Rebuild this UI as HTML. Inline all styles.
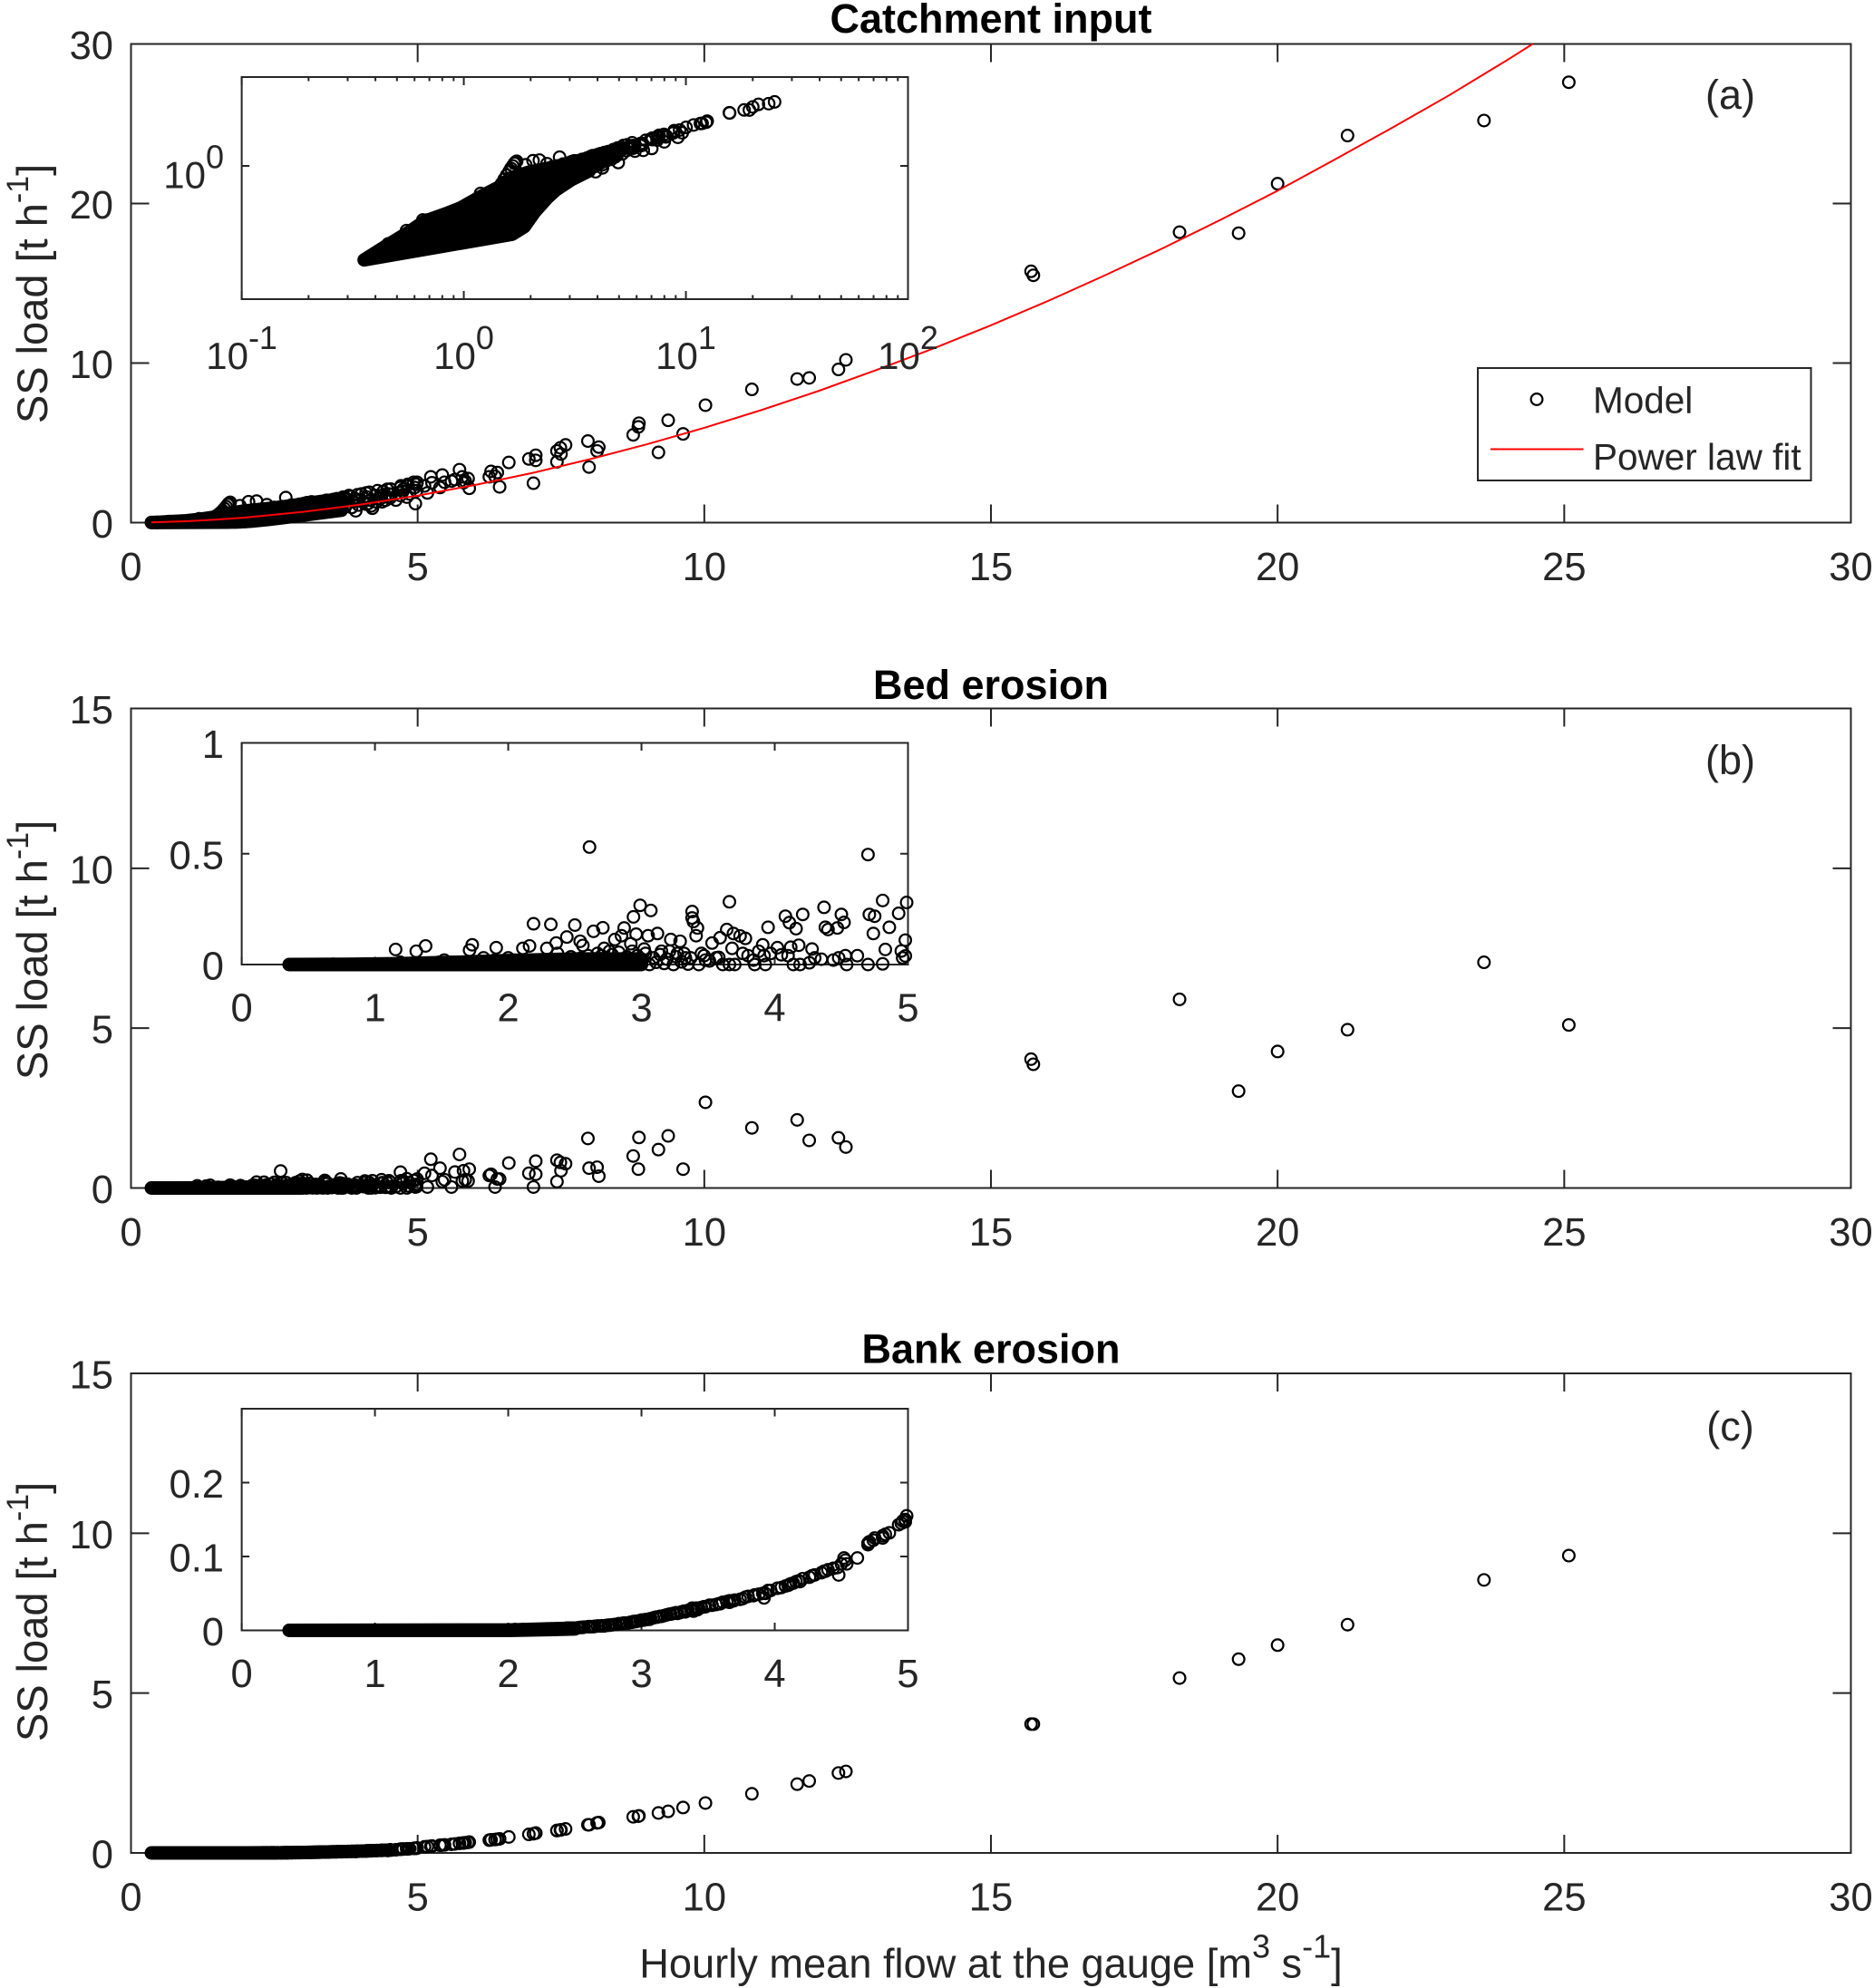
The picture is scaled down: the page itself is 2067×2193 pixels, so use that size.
<!DOCTYPE html>
<html lang="en">
<head>
<meta charset="utf-8">
<title>SS load versus hourly mean flow</title>
<style>
html,body{margin:0;padding:0;background:#fff}
svg{display:block}
text{font-family:"Liberation Sans",Arial,sans-serif;fill:#262626}
</style>
</head>
<body>
<svg id="chart" xmlns="http://www.w3.org/2000/svg" width="2067" height="2193" viewBox="0 0 2067 2193">
<rect x="0" y="0" width="2067" height="2193" fill="#fff"/>
<g id="panel-a"></g>
<g id="panel-b"></g>
<g id="panel-c"></g>

<text x="1093" y="36" text-anchor="middle" font-size="45" font-weight="bold" style="fill:#000">Catchment input</text>
<text x="1093" y="771" text-anchor="middle" font-size="45" font-weight="bold" style="fill:#000">Bed erosion</text>
<text x="1093" y="1503.5" text-anchor="middle" font-size="45" font-weight="bold" style="fill:#000">Bank erosion</text>

<text x="1908.5" y="120" text-anchor="middle" font-size="45">(a)</text>
<text x="1908.5" y="854" text-anchor="middle" font-size="45">(b)</text>
<text x="1908.5" y="1589" text-anchor="middle" font-size="45">(c)</text>

<text transform="translate(52,324) rotate(-90)" text-anchor="middle" font-size="47">SS load [t h<tspan font-size="34" dy="-21">-1</tspan><tspan dy="21">]</tspan></text>
<text transform="translate(52,1048) rotate(-90)" text-anchor="middle" font-size="47">SS load [t h<tspan font-size="34" dy="-21">-1</tspan><tspan dy="21">]</tspan></text>
<text transform="translate(52,1778) rotate(-90)" text-anchor="middle" font-size="47">SS load [t h<tspan font-size="34" dy="-21">-1</tspan><tspan dy="21">]</tspan></text>
<text x="1093" y="2181.5" text-anchor="middle" font-size="45.2">Hourly mean flow at the gauge [m<tspan font-size="36" dy="-22">3</tspan><tspan dy="22"> s</tspan><tspan font-size="36" dy="-22">-1</tspan><tspan dy="22">]</tspan></text>

<g id="legend">
<rect x="1630" y="406" width="367.5" height="124" fill="#fff" stroke="#262626" stroke-width="2"/>
<circle cx="1695" cy="440.5" r="6.4" fill="none" stroke="#000" stroke-width="2.2"/>
<text x="1757" y="455.5" font-size="40.5">Model</text>
<line x1="1644" y1="495.5" x2="1746.5" y2="495.5" stroke="#f00" stroke-width="2"/>
<text x="1757" y="518" font-size="40.5">Power law fit</text>
</g>
</svg>

<script>
// Shared model output: one entry per hourly flow value.
const flow = [
0.457,0.552,0.587,0.654,0.687,1.155,1.19,1.31,1.38,1.48,
1.52,1.56,1.6,1.63,1.66,1.69,1.71,1.73,1.815,1.9,
1.91,2,2.05,2.11,2.16,2.19,2.29,2.32,2.36,2.37,
2.44,2.5,2.54,2.56,2.61,2.64,2.7,2.71,2.72,2.76,
2.8,2.85,2.87,2.92,2.94,2.96,2.99,3.02,3.05,3.07,
3.12,3.15,3.22,3.27,3.29,3.33,3.38,3.38,3.39,3.41,
3.42,3.45,3.48,3.51,3.53,3.56,3.58,3.59,3.61,3.64,
3.66,3.66,3.68,3.69,3.7,3.74,3.76,3.78,3.8,3.84,
3.85,3.88,3.91,3.92,3.93,3.95,3.97,4.02,4.05,4.08,
4.1,4.11,4.12,4.14,4.16,4.18,4.19,4.21,4.26,4.28,
4.3,4.35,4.37,4.38,4.4,4.44,4.47,4.48,4.5,4.52,
4.53,4.54,4.62,4.7,4.7,4.71,4.74,4.75,4.81,4.81,
4.83,4.86,4.93,4.95,4.96,4.98,4.98,4.99,5.12,5.17,
5.23,5.25,5.39,5.43,5.47,5.59,5.65,5.73,5.78,5.8,
5.83,5.88,5.9,6.25,6.28,6.35,6.39,6.43,6.59,6.94,
7.02,7.06,7.06,7.43,7.43,7.49,7.5,7.58,7.97,7.99,
8.13,8.16,8.76,8.85,8.86,9.2,9.37,9.63,10.02,10.83,
11.62,11.83,12.34,12.47,15.7,15.74,18.29,19.32,20,21.22,
23.6,25.08,
2.42,2.45,2.47,2.49,2.52,2.55,2.57,2.6,2.62,2.65,
2.67,2.69,2.73,2.75,2.78,2.81,2.83,2.86,2.89,2.91,
2.93,2.95,2.97,3,3.03,3.06,3.09,3.11,3.14,3.17,
3.19,3.21,3.24,3.26,3.3,3.32,3.35,3.37,3.43,3.47
];
const catchLoad = [
0.0176,0.035,0.035,0.0606,0.0606,0.15,0.24,0.2,0.18,0.4,
0.5,0.62,0.75,0.88,1,1.14,1.22,1.27,0.04,1.06,
0.5,0.074,1.31,0.6,0.7,1.35,0.8,0.85,0.6,1.12,
0.9,0.95,0.7,0.75,0.9,1,1.57,0.8,1,0.9,
1.1,0.85,1.05,0.95,1.15,0.7,1.1,1.2,0.9,1.25,
1,1.3,1.05,1.2,0.8,1.3,1.3,0.9,1,1.4,
1.1,0.85,1.3,0.9,1.45,1,1.2,1.5,0.95,1.3,
1.5,1.1,0.9,1.35,1.6,1,1.5,1.2,1.7,1.64,
0.95,1.3,1.5,0.74,1.4,1.75,1.1,1.8,1.3,1.5,
1.86,1.15,1.6,1.2,1.9,1.4,1.05,0.9,1.7,1.3,
2,1.5,1.7,1.3,1.95,1.4,2.09,1.6,1.8,1.55,
2.1,1.75,1.41,2.2,1.7,2.31,1.95,2.1,2.3,1.6,
2.4,1.8,2.53,2.2,1.19,2.4,2,2.53,2.3,1.86,
2.87,2.5,2.2,2.98,2.53,2.6,2.7,3.32,2.87,2.5,
2.6,2.76,2.15,2.87,3.21,2.9,3.14,2.24,3.77,3.99,
2.47,4.22,3.9,3.81,4.49,4.69,4.3,4.87,5.11,3.48,
4.49,4.73,5.5,6,6.23,4.4,6.41,5.56,7.36,8.35,
9,9.07,9.6,10.2,15.75,15.5,18.2,18.14,21.24,24.26,
25.2,27.6,
0.7,0.5,0.9,0.6,0.8,0.5,0.95,0.65,0.8,0.55,
0.9,0.7,0.6,1,0.75,0.65,0.95,0.7,0.85,1.05,
0.75,0.9,1.05,0.8,0.95,0.85,1.1,0.75,1,0.85,
1.1,0.8,1.15,0.95,1,1.15,0.9,1.2,1,1.25
];
const bedLoad = [
0,0,0,0,0.001,0.068,0.01,0.06,0.084,0.01,
0.02,0.01,0.005,0.01,0.005,0.01,0.065,0.089,0.03,0.02,
0.076,0.03,0.02,0.073,0.084,0.184,0.073,0.181,0.097,0.05,
0.124,0.178,0.105,0.086,0.53,0.15,0.04,0.166,0.073,0.06,
0.113,0.13,0.165,0.094,0.215,0.137,0.267,0.07,0.13,0.244,
0.14,0.06,0.113,0.05,0.105,0.03,0.239,0.21,0.194,0.13,
0.165,0.05,0.02,0.016,0.097,0.03,0.032,0.121,0,0.158,
0.283,0,0.073,0.14,0,0.129,0.05,0.118,0.04,0.02,
0,0.06,0.089,0.04,0,0.168,0.05,0.076,0.044,0.218,
0.04,0.189,0.078,0,0.162,0.087,0,0.226,0.008,0.07,
0.03,0.024,0.258,0.168,0.158,0.02,0.165,0.03,0.226,0.19,
0.04,0,0.04,0.496,0,0.226,0.14,0.218,0.289,0.003,
0.068,0.168,0.231,0.061,0.03,0.11,0.039,0.28,0.46,0.03,
0.9,0.39,0.62,0.2,0.26,0.03,0.5,1.05,0.22,0.54,
0.26,0.22,0.59,0.39,0.43,0.03,0.28,0.28,0.78,0.46,
0.03,0.84,0.43,0.2,0.87,0.8,0.54,0.76,1.55,0.62,
0.65,0.37,1,0.59,1.58,1.2,1.63,0.59,2.68,1.88,
2.13,1.49,1.57,1.28,4.03,3.87,5.9,3.03,4.27,4.95,
7.06,5.1,
0.02,0.004,0.035,0.012,0,0.03,0.01,0.04,0.002,0.025,
0.05,0.008,0.03,0,0.045,0.015,0.055,0.003,0.035,0.01,
0.06,0,0.04,0.02,0.05,0,0.03,0.01,0.045,0.005,
0.025,0.06,0,0.035,0.012,0.05,0.002,0.03,0,0.04
];
const bankLoad = [
0,0,0,0,0,0,0,0,0,0,
0,0,0,0,0,0,0,0,0,0,
0,0.0005,0.001,0.001,0.001,0.001,0.002,0.002,0.002,0.002,
0.003,0.003,0.004,0.004,0.005,0.005,0.006,0.006,0.006,0.007,
0.008,0.009,0.01,0.011,0.012,0.012,0.013,0.014,0.015,0.016,
0.018,0.019,0.022,0.023,0.024,0.025,0.028,0.03,0.026,0.03,
0.028,0.031,0.032,0.034,0.034,0.035,0.036,0.036,0.038,0.039,
0.04,0.038,0.04,0.04,0.041,0.042,0.043,0.045,0.046,0.047,
0.048,0.049,0.05,0.044,0.05,0.054,0.054,0.057,0.058,0.06,
0.061,0.062,0.063,0.064,0.066,0.067,0.066,0.07,0.072,0.074,
0.075,0.078,0.08,0.08,0.082,0.084,0.085,0.075,0.09,0.098,
0.095,0.09,0.098,0.116,0.118,0.12,0.122,0.125,0.125,0.128,
0.13,0.132,0.143,0.145,0.148,0.15,0.147,0.155,0.19,0.2,
0.21,0.215,0.24,0.245,0.25,0.27,0.28,0.3,0.31,0.31,
0.32,0.33,0.34,0.4,0.41,0.42,0.43,0.44,0.5,0.58,
0.6,0.62,0.62,0.7,0.7,0.72,0.72,0.75,0.88,0.88,
0.94,0.95,1.13,1.15,1.16,1.25,1.3,1.42,1.56,1.85,
2.15,2.25,2.5,2.55,4.03,4.03,5.47,6.06,6.5,7.14,
8.54,9.3,
0.0025,0.003,0.003,0.003,0.0035,0.004,0.0045,0.005,0.005,0.0055,
0.006,0.006,0.0065,0.007,0.0075,0.008,0.009,0.0095,0.01,0.0105,
0.011,0.012,0.0125,0.014,0.0145,0.015,0.017,0.018,0.019,0.02,
0.021,0.022,0.023,0.024,0.025,0.026,0.027,0.028,0.03,0.032
];

// Power law fit.
const fitFlow = [0.356,1,1.5,2,3,4,5,6,7,8,9,10,11,12,13,14,15,16,17,18,19,20,21,22,23,24,24.45];
const fitLoad = [0.0142,0.092,0.19,0.323,0.672,1.13,1.69,2.36,3.11,3.97,4.91,5.94,7.06,8.26,9.56,10.92,12.37,13.9,15.52,17.2,18.97,20.8,22.76,24.75,26.8,28.98,30];

// Overplotted low-flow markers: outline of the solid marker clouds.
const catchCloudUpperFlow = [0.356,0.45,0.561,0.665,0.828,0.97,1.21,1.435,1.626,1.96,2.56,3.45,3.67];
const catchCloudUpperLoad = [0.00766,0.016,0.0314,0.056,0.083,0.1135,0.212,0.329,0.526,0.72,0.94,1.39,1.5];
const catchCloudLowerFlow = [0.356,1.652,1.87,2.09,2.37,2.6,3.04,3.67];
const catchCloudLowerLoad = [0.00766,0.029,0.0429,0.094,0.19,0.29,0.486,0.778];
const bedCloudUpperFlow = [0.356,0.8,1.2,1.6,2,2.5,3];
const bedCloudUpperLoad = [0,0.001,0.004,0.01,0.018,0.025,0.025];
const bedCloudLowerFlow = [0.356,3];
const bedCloudLowerLoad = [0,0];
const bankCloudUpperFlow = [0.356,2,2.3,2.5];
const bankCloudUpperLoad = [0,0.0005,0.002,0.003];
const bankCloudLowerFlow = [0.356,2,2.3,2.5];
const bankCloudLowerLoad = [0,0,0.001,0.002];

// Tick labels.
const mainXTicks = [0,5,10,15,20,25,30];
const mainYTicksA = [0,10,20,30];
const mainYTicksB = [0,5,10,15];
const mainYTicksC = [0,5,10,15];
const insetXTicks = [0,1,2,3,4,5];
const insetYTicksB = [0,0.5,1];
const insetYTicksC = [0,0.1,0.2];
const logXExponents = [-1,0,1,2];
const logYExponents = [0];
const logMinorMultipliers = [2,3,4,5,6,7,8,9];

const NS = 'http://www.w3.org/2000/svg';
const INK = '#262626';

function make(tag, attrs, parent) {
  const node = document.createElementNS(NS, tag);
  for (const key in attrs) node.setAttribute(key, attrs[key]);
  parent.appendChild(node);
  return node;
}
function linearAxis(d0, d1, r0, r1) {
  return function (v) { return r0 + (v - d0) / (d1 - d0) * (r1 - r0); };
}
function logAxis(d0, d1, r0, r1) {
  const a = Math.log10(d0), b = Math.log10(d1);
  return function (v) { return r0 + (Math.log10(v) - a) / (b - a) * (r1 - r0); };
}

function drawBox(parent, box) {
  const rect = make('rect', {x: box.l, y: box.t, width: box.r - box.l, height: box.b - box.t, fill: '#fff', stroke: INK, 'stroke-width': 2}, parent);
  
  
}
function drawXTick(parent, box, px, len) {
  const bottom = make('line', {x1: px, x2: px, y1: box.b, y2: box.b - len, stroke: INK, 'stroke-width': 2}, parent);
  
  
  const top = make('line', {x1: px, x2: px, y1: box.t, y2: box.t + len, stroke: INK, 'stroke-width': 2}, parent);
  
  
}
function drawYTick(parent, box, py, len) {
  const left = make('line', {x1: box.l, x2: box.l + len, y1: py, y2: py, stroke: INK, 'stroke-width': 2}, parent);
  
  
  const right = make('line', {x1: box.r, x2: box.r - len, y1: py, y2: py, stroke: INK, 'stroke-width': 2}, parent);
  
  
}
function drawLabel(parent, px, py, anchor, content, name) {
  const label = make('text', {x: px, y: py, 'text-anchor': anchor, 'font-size': 43.5}, parent);
  
  
  label.textContent = content;
}
function drawPowerLabel(parent, px, py, anchor, exponent, name) {
  const label = make('text', {x: px, y: py, 'text-anchor': anchor, 'font-size': 42}, parent);
  
  
  label.appendChild(document.createTextNode('10'));
  const sup = make('tspan', {'font-size': 36, dy: -22}, label);
  sup.textContent = String(exponent);
}
function drawLinearAxes(parent, box, X, Y, xTicks, yTicks, len, xLabelY, yLabelX) {
  drawBox(parent, box);
  xTicks.forEach(function (t) {
    drawXTick(parent, box, X(t), len);
    drawLabel(parent, X(t), xLabelY, 'middle', String(t), 'x-tick-label');
  });
  yTicks.forEach(function (t) {
    drawYTick(parent, box, Y(t), len);
    drawLabel(parent, yLabelX, Y(t) + 16.5, 'end', String(t), 'y-tick-label');
  });
}
function drawRings(parent, xs, ys, X, Y, xMin, xMax, yMin, yMax, name) {
  const group = make('g', {fill: 'none', stroke: '#000', 'stroke-width': 2.2}, parent);
  
  
  for (let i = 0; i < xs.length; i++) {
    if (xs[i] < xMin || xs[i] > xMax || ys[i] < yMin || ys[i] > yMax) continue;
    const ring = make('circle', {cx: X(xs[i]).toFixed(2), cy: Y(ys[i]).toFixed(2), r: 6.4}, group);
    
    
  }
}
function drawCloud(parent, upX, upY, loX, loY, X, Y, name) {
  let d = '';
  for (let i = 0; i < upX.length; i++) d += (i ? 'L' : 'M') + X(upX[i]).toFixed(2) + ' ' + Y(upY[i]).toFixed(2);
  for (let i = loX.length - 1; i >= 0; i--) d += 'L' + X(loX[i]).toFixed(2) + ' ' + Y(loY[i]).toFixed(2);
  const cloud = make('path', {d: d + 'Z', fill: '#000', stroke: '#000', 'stroke-width': 15, 'stroke-linejoin': 'round'}, parent);
  
  
}

const LEFT = 144.5, RIGHT = 2041.5, INSET_L = 266.6, INSET_R = 1001.5;

// Panel (a): catchment input
(function () {
  const root = document.getElementById('panel-a');
  const box = {l: LEFT, r: RIGHT, t: 48.5, b: 576.5};
  const X = linearAxis(0, 30, box.l, box.r), Y = linearAxis(0, 30, box.b, box.t);
  drawLinearAxes(root, box, X, Y, mainXTicks, mainYTicksA, 20, box.b + 63.5, 125);
  drawCloud(root, catchCloudUpperFlow, catchCloudUpperLoad, catchCloudLowerFlow, catchCloudLowerLoad, X, Y, 'catchment-low-flow-cloud');
  drawRings(root, flow, catchLoad, X, Y, 0, 30, 0, 30, 'catchment-model-points');
  let pts = '';
  for (let i = 0; i < fitFlow.length; i++) pts += X(fitFlow[i]).toFixed(2) + ',' + Y(fitLoad[i]).toFixed(2) + ' ';
  const fit = make('polyline', {points: pts, fill: 'none', stroke: '#f00', 'stroke-width': 2}, root);
  
  

  const inset = make('g', {}, root);
  
  
  const ibox = {l: INSET_L, r: INSET_R, t: 85, b: 330};
  const IX = logAxis(0.1, 100, ibox.l, ibox.r), IY = logAxis(0.001, 100, ibox.b, ibox.t);
  drawBox(inset, ibox);
  logXExponents.forEach(function (e, idx) {
    const major = Math.pow(10, e);
    drawXTick(inset, ibox, IX(major), 9);
    drawPowerLabel(inset, IX(major), 407, 'middle', e, 'inset-x-tick-label');
    if (idx < logXExponents.length - 1) {
      logMinorMultipliers.forEach(function (m) { drawXTick(inset, ibox, IX(major * m), 4.5); });
    }
  });
  logYExponents.forEach(function (e) {
    const major = Math.pow(10, e);
    drawYTick(inset, ibox, IY(major), 8.5);
    drawPowerLabel(inset, 247, IY(major) + 24.6, 'end', e, 'inset-y-tick-label');
  });
  drawCloud(inset, catchCloudUpperFlow, catchCloudUpperLoad, catchCloudLowerFlow, catchCloudLowerLoad, IX, IY, 'catchment-inset-cloud');
  drawRings(inset, flow, catchLoad, IX, IY, 0.1, 100, 0.001, 100, 'catchment-inset-points');
})();

// Panels (b) and (c): bed and bank erosion
function erosionPanel(id, top, insetTop, insetYMax, mainTicks, insetTicks, loads, upX, upY, loX, loY, label, xLabelOffset) {
  const root = document.getElementById(id);
  const box = {l: LEFT, r: RIGHT, t: top, b: top + 529};
  const X = linearAxis(0, 30, box.l, box.r), Y = linearAxis(0, 15, box.b, box.t);
  drawLinearAxes(root, box, X, Y, mainXTicks, mainTicks, 20, box.b + 63.5, 125);
  drawCloud(root, upX, upY, loX, loY, X, Y, label + '-low-flow-cloud');
  drawRings(root, flow, loads, X, Y, 0, 30, 0, 15, label + '-model-points');

  const inset = make('g', {}, root);
  
  
  const ibox = {l: INSET_L, r: INSET_R, t: insetTop, b: insetTop + 244.5};
  const IX = linearAxis(0, 5, ibox.l, ibox.r), IY = linearAxis(0, insetYMax, ibox.b, ibox.t);
  drawLinearAxes(inset, ibox, IX, IY, insetXTicks, insetTicks, 8.5, ibox.b + xLabelOffset, 247);
  drawCloud(inset, upX, upY, loX, loY, IX, IY, label + '-inset-cloud');
  drawRings(inset, flow, loads, IX, IY, 0, 5, 0, insetYMax, label + '-inset-points');
}
erosionPanel('panel-b', 781.5, 819.5, 1, mainYTicksB, insetYTicksB, bedLoad,
  bedCloudUpperFlow, bedCloudUpperLoad, bedCloudLowerFlow, bedCloudLowerLoad, 'bed-erosion', 62.5);
erosionPanel('panel-c', 1515, 1554, 0.3, mainYTicksC, insetYTicksC, bankLoad,
  bankCloudUpperFlow, bankCloudUpperLoad, bankCloudLowerFlow, bankCloudLowerLoad, 'bank-erosion', 62.5);
</script>
</body>
</html>
